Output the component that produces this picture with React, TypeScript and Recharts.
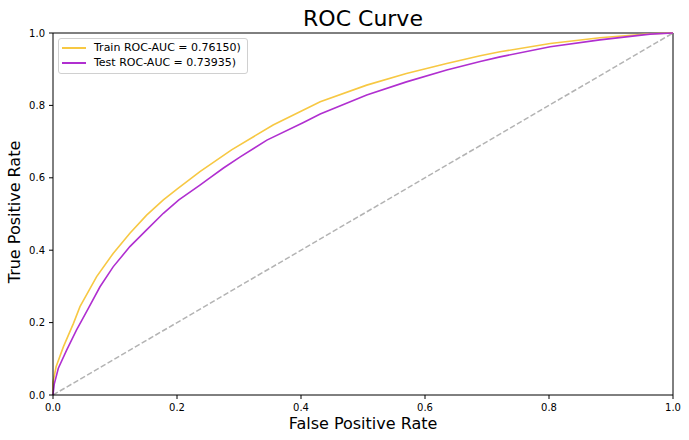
import React from 'react';
import { LineChart, Line, XAxis, YAxis, ReferenceLine, Legend } from 'recharts';

const trainFpr = [0, 0, 0.005, 0.0167, 0.033, 0.0435, 0.0704, 0.097, 0.124, 0.151, 0.178, 0.2, 0.237, 0.288, 0.355, 0.431, 0.506, 0.57, 0.635, 0.689, 0.721, 0.802, 0.882, 0.963, 1];
const trainTpr = [0, 0.035, 0.078, 0.133, 0.198, 0.244, 0.327, 0.391, 0.447, 0.497, 0.539, 0.569, 0.617, 0.677, 0.746, 0.81, 0.856, 0.888, 0.916, 0.937, 0.948, 0.971, 0.987, 0.998, 1];

const testFpr = [0, 0.002, 0.0086, 0.022, 0.038, 0.046, 0.057, 0.0758, 0.097, 0.124, 0.151, 0.178, 0.203, 0.237, 0.253, 0.275, 0.302, 0.345, 0.404, 0.431, 0.506, 0.57, 0.635, 0.689, 0.721, 0.802, 0.882, 0.963, 1];
const testTpr = [0, 0.03, 0.074, 0.124, 0.18, 0.205, 0.239, 0.299, 0.354, 0.41, 0.456, 0.502, 0.539, 0.58, 0.6, 0.627, 0.658, 0.704, 0.753, 0.776, 0.829, 0.865, 0.898, 0.921, 0.934, 0.962, 0.981, 0.997, 1];

const chanceFpr = [0, 1];
const chanceTpr = [0, 1];

const ticks = [0, 0.2, 0.4, 0.6, 0.8, 1.0];

const seriesNames = ['Train ROC-AUC = 0.76150)', 'Test ROC-AUC = 0.73935)'];
const seriesColors = ['#f7c843', '#b02fd0'];

const trainData = trainFpr.map((x, i) => ({ x, y: trainTpr[i] }));
const testData = testFpr.map((x, i) => ({ x, y: testTpr[i] }));
const chanceData = chanceFpr.map((x, i) => ({ x, y: chanceTpr[i] }));

const FONT = '"DejaVu Sans", sans-serif';

const LegendBox = () => (
  <div
    style={{
      width: 188,
      height: 32,
      border: '1px solid #d0d0d0',
      borderRadius: 3,
      background: 'rgba(255,255,255,0.8)',
      paddingTop: 1,
      paddingBottom: 1,
      boxSizing: 'content-box',
      fontFamily: FONT,
      fontSize: 11,
      color: '#000',
    }}
  >
    {seriesNames.map((n, i) => (
      <div key={n} style={{ height: 15, display: 'flex', alignItems: 'center' }}>
        <div style={{ marginLeft: 3, width: 24, height: 2, background: seriesColors[i] }} />
        <span style={{ marginLeft: 8, lineHeight: '15px', whiteSpace: 'nowrap' }}>{n}</span>
      </div>
    ))}
  </div>
);

const YLabel = () => (
  <text
    x={20}
    y={212}
    transform="rotate(-90 20 212)"
    textAnchor="middle"
    fontFamily={FONT}
    fontSize={16}
    fill="#000"
  >
    True Positive Rate
  </text>
);

export default function App() {
  const tickStyle = { fontFamily: FONT, fontSize: 10, fill: '#000' };
  return (
    <div style={{ position: 'absolute', left: 0, top: 0, width: 689, height: 440, background: '#fff' }}>
      <LineChart width={689} height={440} margin={{ top: 33, right: 16, left: 0, bottom: 0 }}>
        <XAxis
          dataKey="x"
          type="number"
          domain={[0, 1]}
          ticks={ticks}
          tickFormatter={(v: number) => v.toFixed(1)}
          tick={tickStyle}
          height={45}
          stroke="#000"
          tickSize={4}
          tickMargin={5}
          allowDuplicatedCategory={false}
          label={{ value: 'False Positive Rate', position: 'insideBottom', offset: 11, style: { fontFamily: FONT, fontSize: 16, fill: '#000' } }}
        />
        <YAxis
          type="number"
          domain={[0, 1]}
          ticks={ticks}
          tickFormatter={(v: number) => v.toFixed(1)}
          tick={tickStyle}
          width={53}
          stroke="#000"
          tickSize={4}
          tickMargin={4}
          label={<YLabel />}
        />
        <ReferenceLine
          y={1}
          stroke="#000"
          strokeWidth={1}
          label={{ value: 'ROC Curve', position: 'top', offset: 7, style: { fontFamily: FONT, fontSize: 22, fill: '#000' } }}
        />
        <ReferenceLine x={1} stroke="#000" strokeWidth={1} />
        <Line
          data={chanceData}
          dataKey="y"
          stroke="#b3b3b3"
          strokeWidth={1.5}
          strokeDasharray="5.5 2.4"
          dot={false}
          type="linear"
          isAnimationActive={false}
          legendType="none"
        />
        <Line
          data={trainData}
          dataKey="y"
          name={seriesNames[0]}
          stroke={seriesColors[0]}
          strokeWidth={1.6}
          dot={false}
          type="linear"
          isAnimationActive={false}
        />
        <Line
          data={testData}
          dataKey="y"
          name={seriesNames[1]}
          stroke={seriesColors[1]}
          strokeWidth={1.6}
          dot={false}
          type="linear"
          isAnimationActive={false}
        />
        <Legend
          layout="vertical"
          align="center"
          verticalAlign="middle"
          wrapperStyle={{ left: 58, top: 38, width: 190, height: 34 }}
          content={() => <LegendBox />}
        />
      </LineChart>
    </div>
  );
}
